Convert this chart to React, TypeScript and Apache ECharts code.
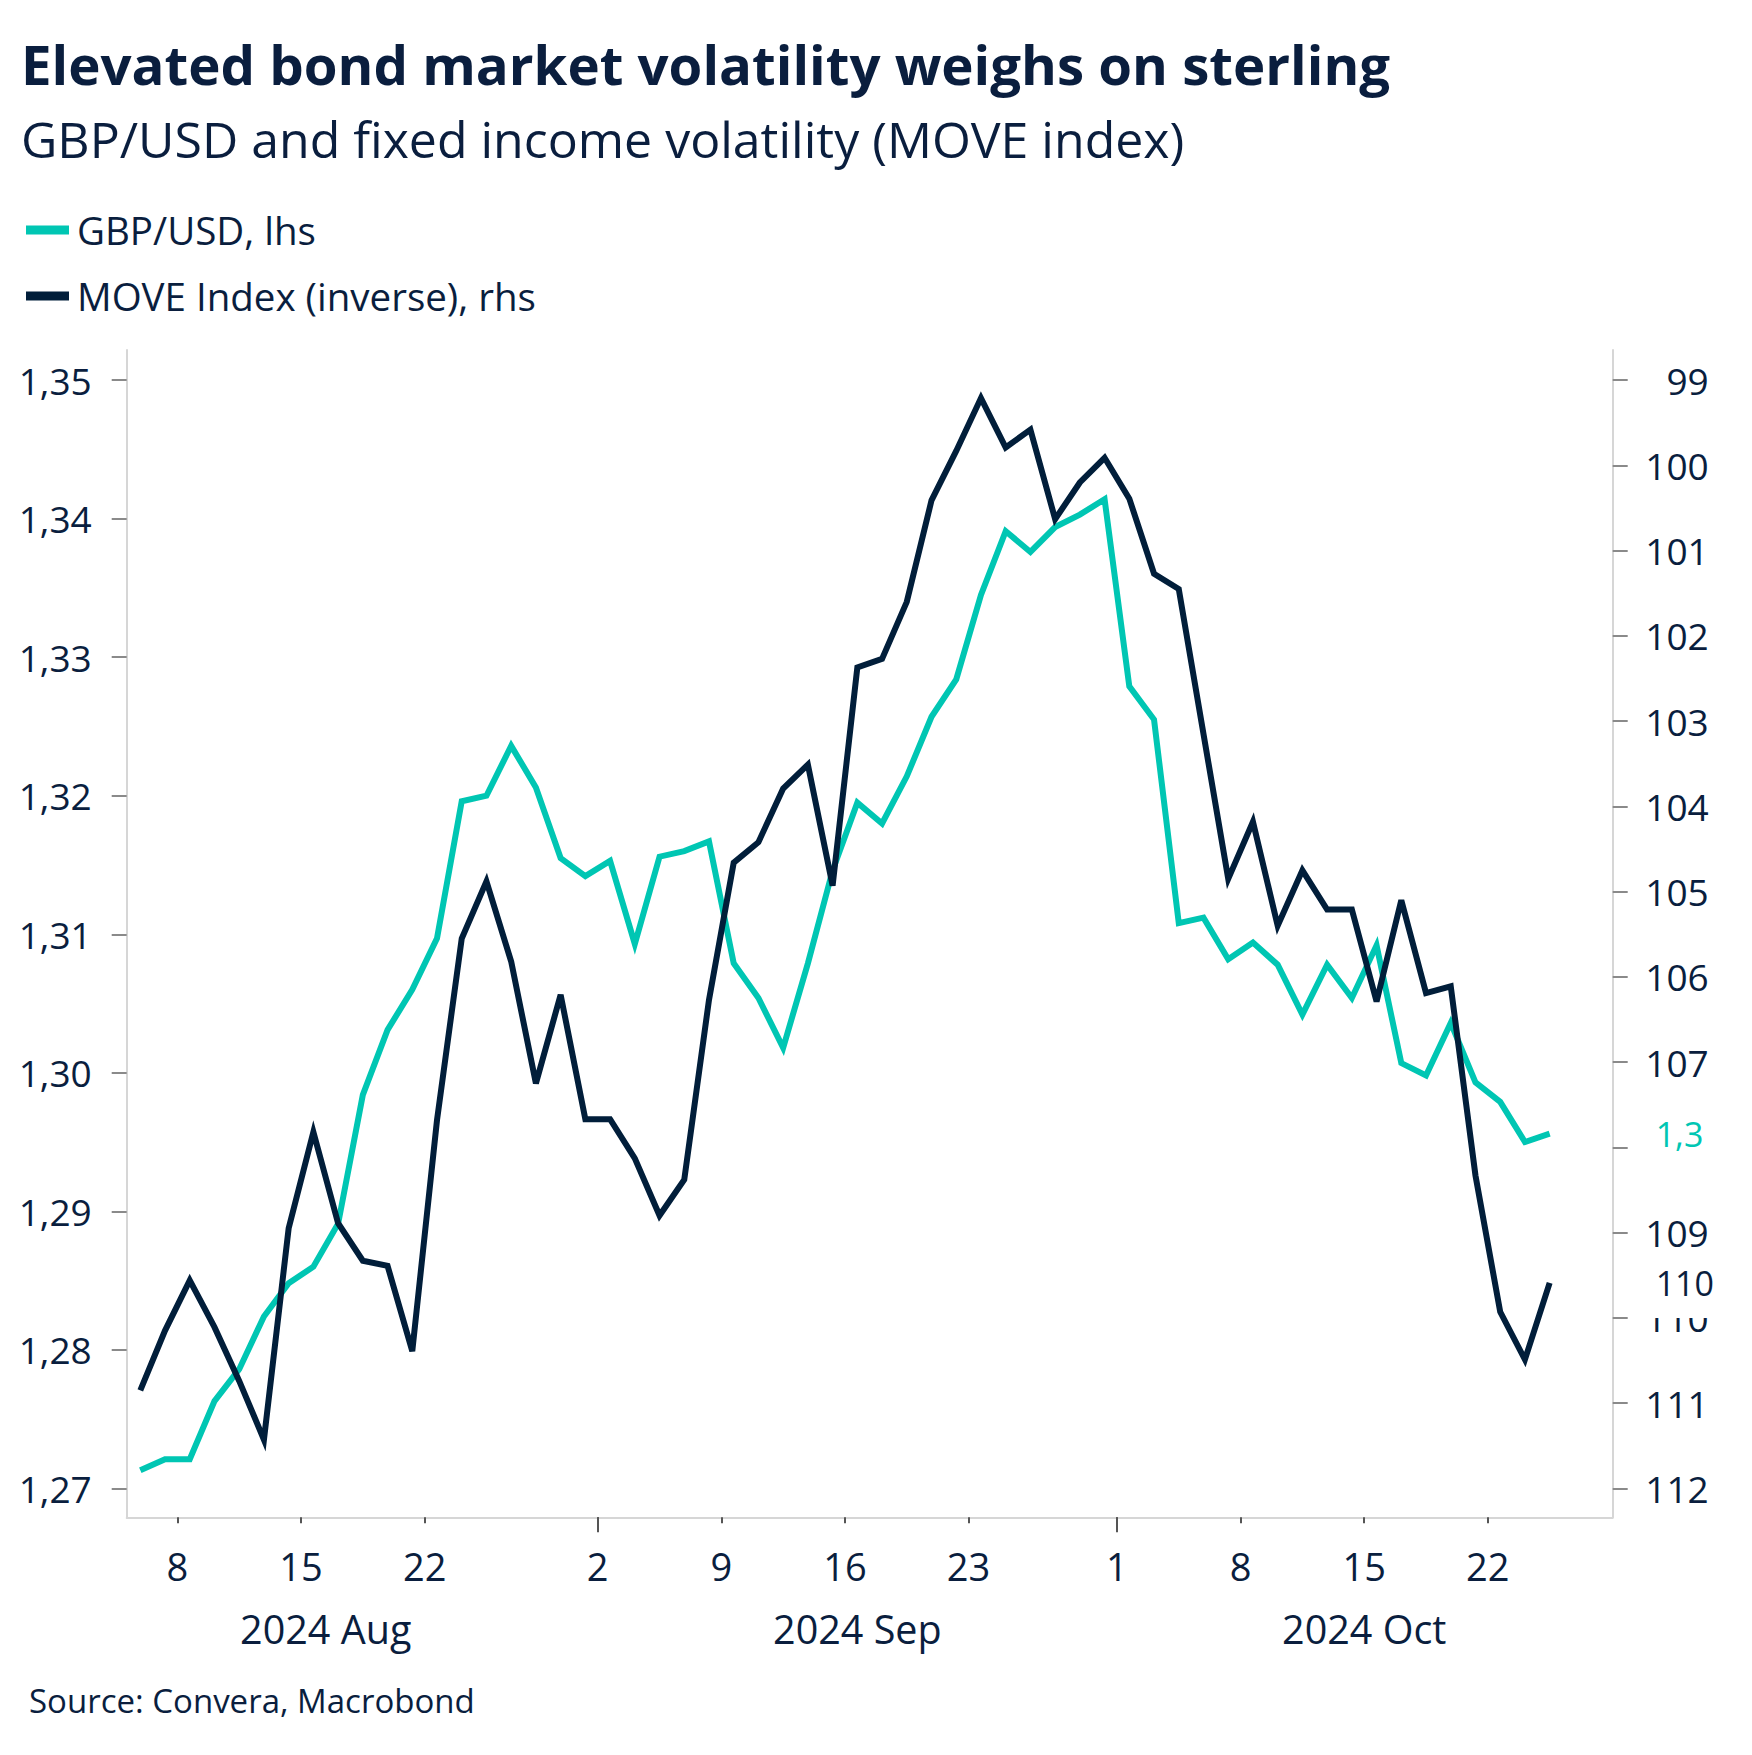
import React, { useEffect, useRef } from 'react';
import * as echarts from 'echarts';

// ---------------- data ----------------
const dates: string[] = [
  '2024-08-06', '2024-08-07', '2024-08-08', '2024-08-09',
  '2024-08-12', '2024-08-13', '2024-08-14', '2024-08-15', '2024-08-16',
  '2024-08-19', '2024-08-20', '2024-08-21', '2024-08-22', '2024-08-23',
  '2024-08-26', '2024-08-27', '2024-08-28', '2024-08-29', '2024-08-30',
  '2024-09-02', '2024-09-03', '2024-09-04', '2024-09-05', '2024-09-06',
  '2024-09-09', '2024-09-10', '2024-09-11', '2024-09-12', '2024-09-13',
  '2024-09-16', '2024-09-17', '2024-09-18', '2024-09-19', '2024-09-20',
  '2024-09-23', '2024-09-24', '2024-09-25', '2024-09-26', '2024-09-27',
  '2024-09-30',
  '2024-10-01', '2024-10-02', '2024-10-03', '2024-10-04',
  '2024-10-07', '2024-10-08', '2024-10-09', '2024-10-10', '2024-10-11',
  '2024-10-14', '2024-10-15', '2024-10-16', '2024-10-17', '2024-10-18',
  '2024-10-21', '2024-10-22', '2024-10-23', '2024-10-24',
];

const gbpUsd: number[] = [
  1.2713, 1.2721, 1.2721, 1.2763, 1.2786, 1.2824, 1.2848, 1.2860, 1.2891, 1.2984,
  1.3031, 1.3060, 1.3097, 1.3196, 1.3200, 1.3236, 1.3206, 1.3155, 1.3142, 1.3153,
  1.3093, 1.3156, 1.3160, 1.3167, 1.3079, 1.3054, 1.3018, 1.3079, 1.3146, 1.3195,
  1.3180, 1.3214, 1.3257, 1.3284, 1.3345, 1.3391, 1.3376, 1.3394, 1.3403, 1.3414,
  1.3279, 1.3255, 1.3108, 1.3112, 1.3082, 1.3094, 1.3078, 1.3042, 1.3078, 1.3054,
  1.3092, 1.3007, 1.2998, 1.3036, 1.2993, 1.2979, 1.2950, 1.2956,
];

const moveIndex: number[] = [
  110.85, 110.15, 109.56, 110.11, 110.74, 111.43, 108.95, 107.82, 108.89, 109.33,
  109.39, 110.39, 107.68, 105.55, 104.88, 105.82, 107.25, 106.21, 107.67, 107.67,
  108.13, 108.80, 108.38, 106.27, 104.66, 104.42, 103.79, 103.51, 104.93, 102.37,
  102.27, 101.60, 100.41, 99.83, 99.21, 99.79, 99.58, 100.63, 100.20, 99.91,
  100.39, 101.27, 101.45, 103.15, 104.85, 104.18, 105.40, 104.75, 105.21, 105.21,
  106.29, 105.10, 106.19, 106.11, 108.33, 109.93, 110.49, 109.59,
];

const weekTickDates: string[] = [
  '2024-08-08', '2024-08-15', '2024-08-22', '2024-09-02', '2024-09-09', '2024-09-16',
  '2024-09-23', '2024-10-01', '2024-10-08', '2024-10-15', '2024-10-22',
];
const monthStartDates: string[] = ['2024-09-02', '2024-10-01'];
const monthLabels: string[] = ['2024 Aug', '2024 Sep', '2024 Oct'];

const leftTicks: number[] = [1.27, 1.28, 1.29, 1.3, 1.31, 1.32, 1.33, 1.34, 1.35];
const rightTicks: number[] = [99, 100, 101, 102, 103, 104, 105, 106, 107, 108, 109, 110, 111, 112];

const TITLE = 'Elevated bond market volatility weighs on sterling';
const SUBTITLE = 'GBP/USD and fixed income volatility (MOVE index)';
const SOURCE = 'Source: Convera, Macrobond';
const SERIES_NAMES = ['GBP/USD, lhs', 'MOVE Index (inverse), rhs'];

// ---------------- layout / style ----------------
const FONT = '"Open Sans", "Noto Sans", sans-serif';
const NAVY = '#0A1E3E';
const LINE_NAVY = '#011E3A';
const TEAL = '#00C6B3';
const AXIS_GREY = '#D6D6D6';
const TICK_GREY = '#8A8A8A';

const W = 1752;
const H = 1755;
const PLOT_L = 126.7;
const PLOT_R = 1612.7;
const PLOT_T = 350;
const PLOT_B = 1517.3;
const TICK_TOP_Y = 380.2; // y of 1,35 / 99
const TICK_BOT_Y = 1488.3; // y of 1,27 / 112

const lPx = (TICK_BOT_Y - TICK_TOP_Y) / (1.35 - 1.27);
const leftMin = 1.27 - (PLOT_B - TICK_BOT_Y) / lPx;
const leftMax = 1.35 + (TICK_TOP_Y - PLOT_T) / lPx;
const rPx = (TICK_BOT_Y - TICK_TOP_Y) / (112 - 99);
const rightMin = 99 - (TICK_TOP_Y - PLOT_T) / rPx;
const rightMax = 112 + (PLOT_B - TICK_BOT_Y) / rPx;

const X_MIN = -0.55;
const X_MAX = 59.55;
// month label centres (in day-index units)
const monthLabelPos = [7.5, 29, 49.5];

const weekTickPos = weekTickDates.map((d) => dates.indexOf(d) - 0.5);
const monthTickPos = monthStartDates.map((d) => dates.indexOf(d) - 0.5);

export default function App() {
  const ref = useRef<HTMLDivElement>(null);

  useEffect(() => {
    if (!ref.current) return;
    const chart = echarts.init(ref.current, null, { renderer: 'svg' });

    const dayFormatter = (v: number) => {
      const idx = Math.round(v + 0.5);
      const d = dates[idx];
      return d ? String(parseInt(d.slice(8, 10), 10)) : '';
    };
    const monthFormatter = (v: number) => {
      const k = monthLabelPos.findIndex((p) => Math.abs(p - v) < 1e-6);
      return k >= 0 ? monthLabels[k] : '';
    };

    const endLabelBase = {
      show: true,
      fontFamily: FONT,
      fontSize: 34,
      distance: 88,
      backgroundColor: '#ffffff',
      padding: [18, 6, 18, 18],
    };

    const option: any = {
      animation: false,
      backgroundColor: '#ffffff',
      textStyle: { fontFamily: FONT, color: NAVY },
      title: [
        {
          text: TITLE,
          left: 21,
          top: 36,
          padding: 0,
          textStyle: { fontFamily: FONT, fontWeight: 'bold', fontSize: 54.6, color: NAVY },
        },
        {
          text: SUBTITLE,
          left: 21,
          top: 114,
          padding: 0,
          textStyle: { fontFamily: FONT, fontWeight: 'normal', fontSize: 50, color: NAVY },
        },
        {
          text: SOURCE,
          left: 29,
          top: 1684,
          padding: 0,
          textStyle: { fontFamily: FONT, fontWeight: 'normal', fontSize: 33, color: NAVY },
        },
      ],
      legend: {
        orient: 'vertical',
        left: 26,
        top: 210,
        padding: 0,
        itemWidth: 43,
        itemHeight: 9,
        itemGap: 26,
        icon: 'rect',
        data: SERIES_NAMES,
        textStyle: {
          fontFamily: FONT,
          fontSize: 38.5,
          lineHeight: 40,
          color: NAVY,
          padding: [0, 0, 0, 3],
        },
      },
      grid: {
        left: PLOT_L,
        right: W - PLOT_R,
        top: PLOT_T,
        bottom: H - PLOT_B,
        containLabel: false,
      },
      xAxis: [
        {
          type: 'value',
          position: 'bottom',
          min: X_MIN,
          max: X_MAX,
          axisLine: { show: true, onZero: false, lineStyle: { color: AXIS_GREY, width: 2 } },
          axisTick: {
            show: true,
            customValues: weekTickPos,
            length: 6,
            lineStyle: { color: '#555555', width: 2 },
          },
          axisLabel: {
            customValues: weekTickPos,
            formatter: dayFormatter,
            fontFamily: FONT,
            fontSize: 38,
            color: NAVY,
            margin: 30,
          },
          splitLine: { show: false },
        },
        {
          type: 'value',
          position: 'bottom',
          min: X_MIN,
          max: X_MAX,
          axisLine: { show: false, onZero: false },
          axisTick: {
            show: true,
            customValues: monthTickPos,
            length: 15,
            lineStyle: { color: '#555555', width: 2 },
          },
          axisLabel: {
            customValues: monthLabelPos,
            formatter: monthFormatter,
            fontFamily: FONT,
            fontSize: 39.5,
            color: NAVY,
            margin: 92,
          },
          splitLine: { show: false },
        },
      ],
      yAxis: [
        {
          type: 'value',
          position: 'left',
          min: leftMin,
          max: leftMax,
          axisLine: { show: true, onZero: false, lineStyle: { color: AXIS_GREY, width: 2 } },
          axisTick: {
            show: true,
            customValues: leftTicks,
            length: 15,
            lineStyle: { color: TICK_GREY, width: 2 },
          },
          axisLabel: {
            customValues: leftTicks,
            formatter: (v: number) => v.toFixed(2).replace('.', ','),
            fontFamily: FONT,
            fontSize: 37,
            color: NAVY,
            margin: 35,
          },
          splitLine: { show: false },
        },
        {
          type: 'value',
          position: 'right',
          inverse: true,
          min: rightMin,
          max: rightMax,
          axisLine: { show: true, onZero: false, lineStyle: { color: AXIS_GREY, width: 2 } },
          axisTick: {
            show: true,
            customValues: rightTicks,
            length: 15,
            lineStyle: { color: TICK_GREY, width: 2 },
          },
          axisLabel: {
            customValues: rightTicks,
            formatter: (v: number) => String(Math.round(v)),
            fontFamily: FONT,
            fontSize: 37,
            color: NAVY,
            margin: 96,
            align: 'right',
          },
          splitLine: { show: false },
        },
      ],
      series: [
        {
          name: SERIES_NAMES[0],
          type: 'line',
          xAxisIndex: 0,
          yAxisIndex: 0,
          data: gbpUsd.map((v, i) => [i, v]),
          symbol: 'none',
          showSymbol: false,
          lineStyle: { color: TEAL, width: 6, join: 'miter' },
          itemStyle: { color: TEAL },
          z: 3,
          endLabel: {
            ...endLabelBase,
            color: TEAL,
            formatter: (p: any) => Number(p.value[1]).toFixed(1).replace('.', ','),
          },
        },
        {
          name: SERIES_NAMES[1],
          type: 'line',
          xAxisIndex: 0,
          yAxisIndex: 1,
          data: moveIndex.map((v, i) => [i, v]),
          symbol: 'none',
          showSymbol: false,
          lineStyle: { color: LINE_NAVY, width: 6, join: 'miter' },
          itemStyle: { color: LINE_NAVY },
          z: 4,
          endLabel: {
            ...endLabelBase,
            color: NAVY,
            formatter: (p: any) => String(Math.round(Number(p.value[1]))),
          },
        },
      ],
    };

    chart.setOption(option);
    return () => chart.dispose();
  }, []);

  return (
    <div
      ref={ref}
      style={{ position: 'absolute', left: 0, top: 0, width: W, height: H, background: '#ffffff' }}
    />
  );
}
